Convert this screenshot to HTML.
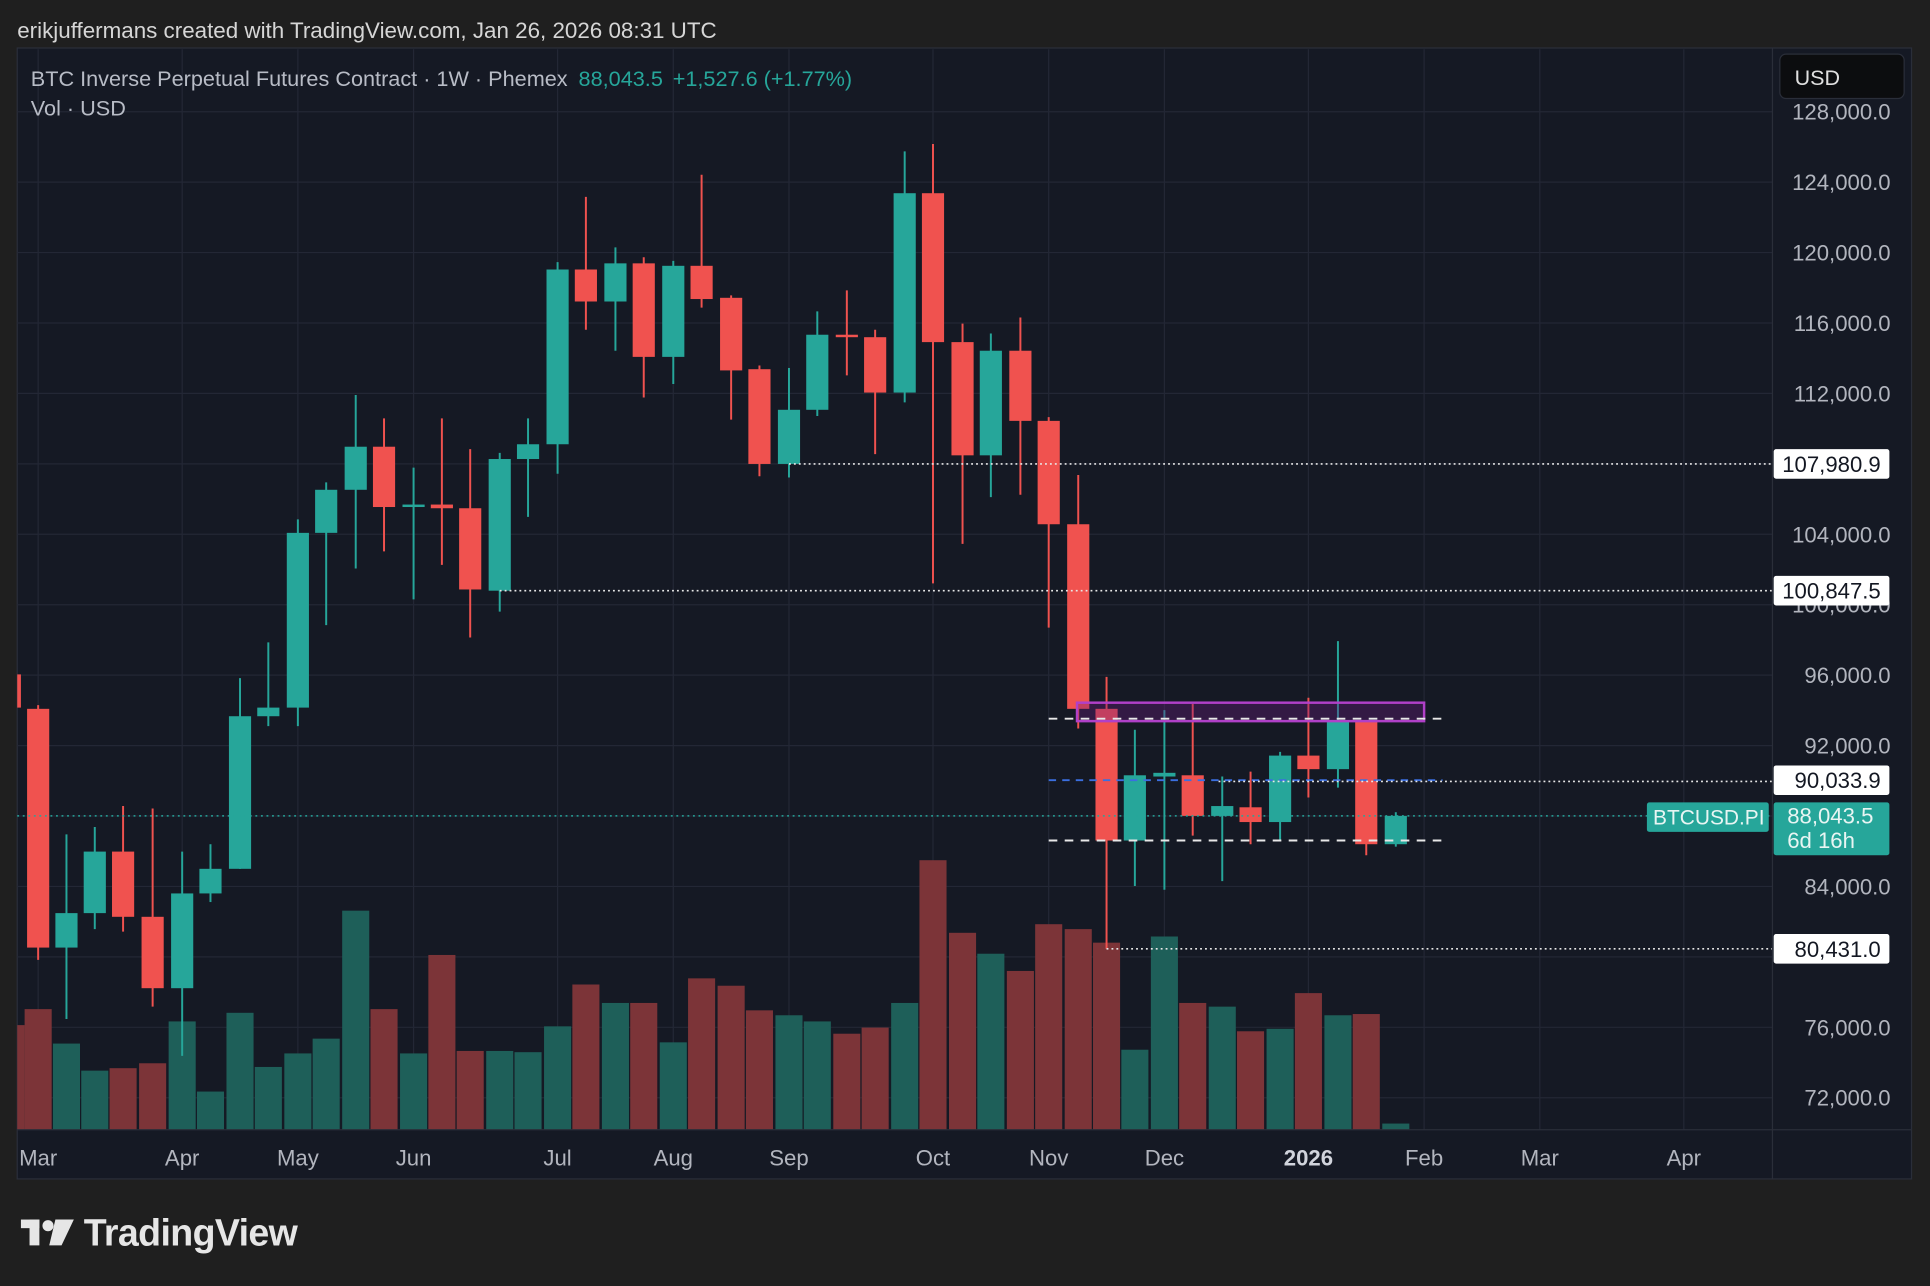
<!DOCTYPE html>
<html><head><meta charset="utf-8"><style>
html,body{margin:0;padding:0;background:#1f1f1f;width:1930px;height:1286px;overflow:hidden}
svg{display:block}
text{font-family:"Liberation Sans",sans-serif}
</style></head><body>
<svg id="s" width="1930" height="1286" viewBox="0 0 1568 1045" preserveAspectRatio="none" xmlns="http://www.w3.org/2000/svg">
<rect x="0" y="0" width="1568" height="1045" fill="#1f1f1f"/>
<text x="14" y="31" font-size="18.2" fill="#d6d6d6">erikjuffermans created with TradingView.com, Jan 26, 2026 08:31 UTC</text>
<rect x="14" y="39" width="1539" height="919" fill="#151924" stroke="#2a2e39" stroke-width="1"/>
<g id="grid" stroke="#232735" stroke-width="1"></g>
<g id="vol"></g>
<g id="candles"></g>
<g id="overlay"></g>
<line x1="1440" y1="39" x2="1440" y2="958" stroke="#2a2e39"/>
<line x1="14" y1="918" x2="1553" y2="918" stroke="#2a2e39"/>
<g id="labels" font-size="18" fill="#b2b5be"></g>
<text x="25" y="70" font-size="17.6" fill="#b8bcc6">BTC Inverse Perpetual Futures Contract · 1W · Phemex <tspan fill="#26a69a" dx="4">88,043.5</tspan><tspan fill="#26a69a" dx="8">+1,527.6 (+1.77%)</tspan></text>
<text x="25" y="94" font-size="17.6" fill="#b8bcc6">Vol · USD</text>
<rect x="1446" y="44" width="101" height="36" rx="5" fill="#0c0d0f" stroke="#2a2e39"/>
<text x="1458" y="69" font-size="17.5" fill="#e0e0e0">USD</text>
<g id="tags"></g>
<g fill="#e6e6e6">
<rect x="17" y="991" width="15" height="7"/><rect x="24" y="991" width="8" height="21"/>
<circle cx="39" cy="996" r="4.5"/>
<polygon points="45,991 60,991 50,1012 40,1012"/>
</g>
<text x="68" y="1012" font-size="30.5" font-weight="bold" fill="#e6e6e6" letter-spacing="-0.5">TradingView</text>
</svg>
<script>
var NS="http://www.w3.org/2000/svg";
function el(p,t,a,txt){var e=document.createElementNS(NS,t);for(var k in a)e.setAttribute(k,a[k]);if(txt!==undefined)e.textContent=txt;document.getElementById(p).appendChild(e);return e;}
function py(p){return 148+(124000-p)*0.014308;}
var months=[["Mar",31],["Apr",148],["May",242],["Jun",336],["Jul",453],["Aug",547],["Sep",641],["Oct",758],["Nov",852],["Dec",946],["2026",1063],["Feb",1157],["Mar",1251],["Apr",1368]];
months.forEach(function(m){el("grid","line",{x1:m[1],y1:40,x2:m[1],y2:918});});
for(var p=72000;p<=128000;p+=4000){var y=py(p);el("grid","line",{x1:14,y1:y,x2:1440,y2:y});}
months.forEach(function(m){var t=el("labels","text",{x:m[1],y:947,"text-anchor":"middle"},m[0]);if(m[0]=="2026"){t.setAttribute("font-weight","bold");t.setAttribute("fill","#d1d4dc");}});
for(var p=72000;p<=128000;p+=4000){if(p==108000||p==88000||p==80000)continue;var s=p.toLocaleString("en-US")+".0";el("labels","text",{x:1536,y:py(p)+6.5,"text-anchor":"end"},s);}
var G=1,R=0;
var C=[[14,548,575,548,575,R],[31,576,770,573,780,R],[54,742,770,678,828,G],[77,692,742,672,755,G],[100,692,745,655,757,R],[124,745,803,657,818,R],[148,726,803,692,858,G],[171,706,726,686,733,G],[195,582,706,551,706,G],[218,575,582,522,590,G],[242,433,575,422,590,G],[265,398,433,392,508,G],[289,363,398,321,462,G],[312,363,412,340,448,R],[336,410,412,380,487,G],[359,410,413,340,459,R],[382,413,479,365,518,R],[406,373,480,368,497,G],[429,361,373,340,420,G],[453,219,361,213,385,G],[476,219,245,160,268,R],[500,214,245,201,285,G],[523,214,290,209,323,R],[547,216,290,212,312,G],[570,216,243,142,250,R],[594,242,301,240,341,R],[617,300,377,297,387,R],[641,333,377,299,388,G],[664,272,333,253,338,G],[688,272,274,236,305,R],[711,274,319,268,369,R],[735,157,319,123,327,G],[758,157,278,117,474,R],[782,278,370,263,442,R],[805,285,370,271,404,G],[829,285,342,258,402,R],[852,342,426,339,510,R],[876,426,576,386,592,R],[899,576,683,550,771,R],[922,630,683,593,720,G],[946,628,631,577,723,G],[969,630,663,572,679,R],[993,655,663,631,716,G],[1016,656,668,627,686,R],[1040,614,668,611,683,G],[1063,614,625,567,648,R],[1087,586,625,521,640,G],[1110,586,686,586,695,R],[1134,663,686,660,688,G]];
var V=[[14,833,R],[31,820,R],[54,848,G],[77,870,G],[100,868,R],[124,864,R],[148,830,G],[171,887,G],[195,823,G],[218,867,G],[242,856,G],[265,844,G],[289,740,G],[312,820,R],[336,856,G],[359,776,R],[382,854,R],[406,854,G],[429,855,G],[453,834,G],[476,800,R],[500,815,G],[523,815,R],[547,847,G],[570,795,R],[594,801,R],[617,821,R],[641,825,G],[664,830,G],[688,840,R],[711,835,R],[735,815,G],[758,699,R],[782,758,R],[805,775,G],[829,789,R],[852,751,R],[876,755,R],[899,766,R],[922,853,G],[946,761,G],[969,815,R],[993,818,G],[1016,838,R],[1040,836,G],[1063,807,R],[1087,825,G],[1110,824,R],[1134,913,G]];
V.forEach(function(v){var x0=v[0]==14?14:v[0]-11,w=v[0]==14?6:22;el("vol","rect",{x:x0,y:v[1],width:w,height:918-v[1],fill:v[2]?"#1e5f59":"#7c3438"});});
C.forEach(function(c){var col=c[5]?"#26a69a":"#f0524f";var x=c[0];
 if(x==14){el("candles","rect",{x:14,y:c[1],width:3,height:c[2]-c[1],fill:col});return;}
 el("candles","line",{x1:x,y1:c[3],x2:x,y2:c[4],stroke:col,"stroke-width":1.6});
 el("candles","rect",{x:x-9,y:c[1],width:18,height:Math.max(2,c[2]-c[1]),fill:col});});
var O="overlay";
el(O,"line",{x1:14,y1:663,x2:1440,y2:663,stroke:"#26a69a","stroke-width":1.2,"stroke-dasharray":"1.5 3"});
el(O,"line",{x1:641,y1:377,x2:1440,y2:377,stroke:"#e8e8e8","stroke-width":1.3,"stroke-dasharray":"1.5 2.5"});
el(O,"line",{x1:406,y1:480,x2:1440,y2:480,stroke:"#e8e8e8","stroke-width":1.3,"stroke-dasharray":"1.5 2.5"});
el(O,"line",{x1:899,y1:771,x2:1440,y2:771,stroke:"#e8e8e8","stroke-width":1.3,"stroke-dasharray":"1.5 2.5"});
el(O,"line",{x1:852,y1:634,x2:1172,y2:634,stroke:"#3b6fe0","stroke-width":1.5,"stroke-dasharray":"6 5"});
el(O,"line",{x1:990,y1:635,x2:1440,y2:635,stroke:"#e8e8e8","stroke-width":1.3,"stroke-dasharray":"1.5 2.5"});
el(O,"rect",{x:875,y:571,width:282,height:15,fill:"rgba(110,30,130,0.35)",stroke:"#b040c8","stroke-width":2});
el(O,"line",{x1:852,y1:584,x2:1172,y2:584,stroke:"#e8e8e8","stroke-width":1.6,"stroke-dasharray":"7 6"});
el(O,"line",{x1:852,y1:683,x2:1172,y2:683,stroke:"#e8e8e8","stroke-width":1.6,"stroke-dasharray":"7 6"});
function tag(y,t){el("tags","rect",{x:1441,y:y-12,width:94,height:24,rx:2,fill:"#ffffff"});el("tags","text",{x:1528,y:y+6.5,"text-anchor":"end","font-size":18,fill:"#131722"},t);}
tag(377,"107,980.9");tag(480,"100,847.5");tag(634,"90,033.9");tag(771,"80,431.0");
el("tags","rect",{x:1441,y:652,width:94,height:43,rx:2,fill:"#26a69a"});
el("tags","text",{x:1452,y:669,"font-size":18,fill:"#e8f5f3"},"88,043.5");
el("tags","text",{x:1452,y:689,"font-size":18,fill:"#e8f5f3"},"6d 16h");
el("tags","rect",{x:1338,y:652,width:99,height:24,rx:2,fill:"#26a69a"});
el("tags","text",{x:1343,y:670,"font-size":17,fill:"#e8f5f3"},"BTCUSD.PI");
</script>
</body></html>
